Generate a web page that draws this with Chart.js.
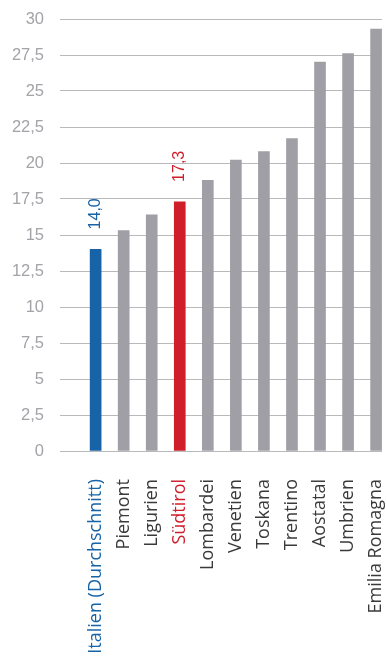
<!DOCTYPE html>
<html>
<head>
<meta charset="utf-8">
<script src="https://cdn.jsdelivr.net/npm/chart.js@4.4.0/dist/chart.umd.min.js"></script>
<style>
html, body { margin: 0; padding: 0; background: #fff; }
#wrap { width: 387px; height: 657px; }
</style>
</head>
<body>
<div id="wrap"><canvas id="chart"></canvas></div>
<script>
// regions and their values
var regions = ['Italien (Durchschnitt)', 'Piemont', 'Ligurien', 'Südtirol', 'Lombardei', 'Venetien', 'Toskana', 'Trentino', 'Aostatal', 'Umbrien', 'Emilia Romagna'];
var values = [14.0, 15.3, 16.4, 17.3, 18.8, 20.2, 20.8, 21.7, 27.0, 27.6, 29.3];
var yTicks = [0, 2.5, 5, 7.5, 10, 12.5, 15, 17.5, 20, 22.5, 25, 27.5, 30];
// bars that get their value written above them
var labelled = [0, 3];

var BLUE = '#1763a7', RED = '#cf1f2b', GRAY = '#a09fa5';

function barColor(i) {
  if (i === 0) return BLUE;
  if (i === 3) return RED;
  return GRAY;
}
function textColor(i) {
  if (i === 0) return BLUE;
  if (i === 3) return RED;
  return '#3a3a3a';
}
function comma(v) {
  return String(v).replace('.', ',');
}

var valueLabels = {
  id: 'valueLabels',
  afterDatasetsDraw: function(chart) {
    var ctx = chart.ctx;
    var meta = chart.getDatasetMeta(0);
    labelled.forEach(function(i) {
      var bar = meta.data[i];
      ctx.save();
      ctx.translate(bar.x, bar.y - 20);
      ctx.rotate(-Math.PI / 2);
      ctx.font = '16px "Liberation Sans"';
      ctx.fillStyle = barColor(i);
      ctx.textAlign = 'left';
      ctx.textBaseline = 'middle';
      ctx.fillText(values[i].toFixed(1).replace('.', ','), 0, 0);
      ctx.restore();
    });
  }
};

new Chart(document.getElementById('chart'), {
  type: 'bar',
  data: {
    datasets: [{
      data: values.map(function(v, i) { return { x: i, y: v }; }),
      backgroundColor: values.map(function(v, i) { return barColor(i); }),
      barThickness: 11,
      borderWidth: 0
    }]
  },
  options: {
    responsive: true,
    maintainAspectRatio: false,
    animation: false,
    layout: { padding: { top: 19, right: 5, left: 0, bottom: 0 } },
    plugins: { legend: { display: false }, tooltip: { enabled: false } },
    scales: {
      x: {
        type: 'linear',
        offset: false,
        min: -1.27,
        max: 10.21,
        grid: { display: false, drawTicks: false, offset: false },
        border: { display: false },
        afterBuildTicks: function(s) {
          s.ticks = regions.map(function(r, i) { return { value: i }; });
        },
        afterFit: function(s) {
          s.height = 206;
          s.paddingLeft = 0;
          s.paddingRight = 0;
        },
        ticks: {
          autoSkip: false,
          minRotation: 90,
          maxRotation: 90,
          padding: 28,
          font: { family: '"Open Sans"', size: 18 },
          color: function(c) { return textColor(c.index); },
          callback: function(v) { return regions[v]; }
        }
      },
      y: {
        min: 0,
        max: 30,
        afterBuildTicks: function(s) {
          s.ticks = yTicks.map(function(v) { return { value: v }; });
        },
        afterFit: function(s) {
          s.width = 60;
          s.paddingTop = 0;
          s.paddingBottom = 0;
        },
        grid: { color: '#b9b9bb', lineWidth: 1, drawTicks: false },
        border: { display: false },
        ticks: {
          padding: 16,
          font: { family: '"Liberation Sans"', size: 16.5 },
          color: '#a3a3a8',
          callback: function(v) { return comma(v); }
        }
      }
    }
  },
  plugins: [valueLabels]
});
</script>
</body>
</html>
